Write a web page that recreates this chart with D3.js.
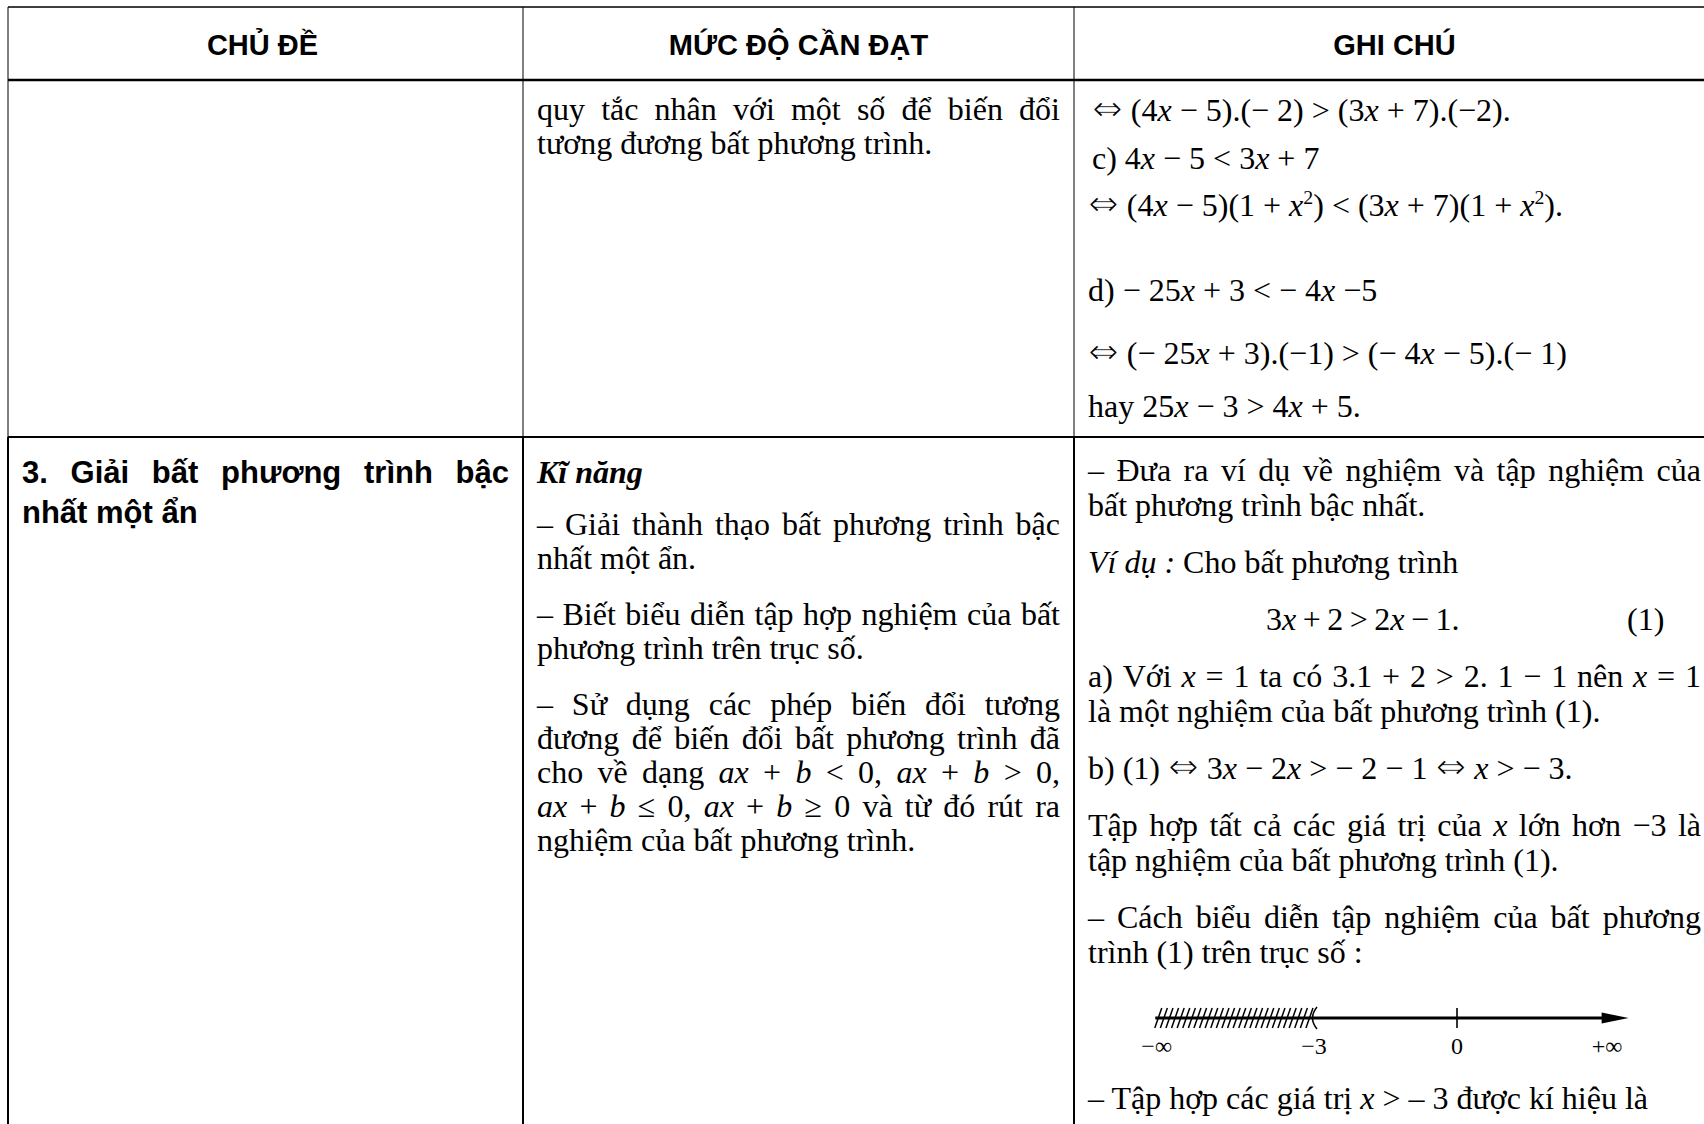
<!DOCTYPE html>
<html>
<head>
<meta charset="utf-8">
<script src="https://cdn.jsdelivr.net/npm/d3@7"></script>
<style>
  html, body { margin: 0; padding: 0; background: #fff; }
  svg { display: block; }
</style>
</head>
<body>
<div id="chart"></div>
<script>
// ---- table content ----
// markup: *...* italic, ^...^ superscript
const headers = ["CHỦ ĐỀ", "MỨC ĐỘ CẦN ĐẠT", "GHI CHÚ"];

const row1Level = [
  ["quy tắc nhân với một số để biến đổi", "tương đương bất phương trình."]
];
const row1Notes = [
  "⇔ (4*x* − 5).(− 2) > (3*x* + 7).(−2).",
  "c) 4*x* − 5 < 3*x* + 7",
  "⇔ (4*x* − 5)(1 + *x*^2^) < (3*x* + 7)(1 + *x*^2^).",
  "d) − 25*x* + 3 < − 4*x* −5",
  "⇔ (− 25*x* + 3).(−1) > (− 4*x* − 5).(− 1)",
  "hay 25*x* − 3 > 4*x* + 5."
];

const row2Topic = [["3. Giải bất phương trình bậc", "nhất một ẩn"]];
const row2LevelTitle = "Kĩ năng";
const row2Level = [
  ["– Giải thành thạo bất phương trình bậc", "nhất một ẩn."],
  ["– Biết biểu diễn tập hợp nghiệm của bất", "phương trình trên trục số."],
  ["– Sử dụng các phép biến đổi tương",
   "đương để biến đổi bất phương trình đã",
   "cho về dạng *ax* + *b* < 0, *ax* + *b* > 0,",
   "*ax* + *b* ≤ 0, *ax* + *b* ≥ 0 và từ đó rút ra",
   "nghiệm của bất phương trình."]
];
const row2Notes = [
  ["– Đưa ra ví dụ về nghiệm và tập nghiệm của", "bất phương trình bậc nhất."],
  ["*Ví dụ :* Cho bất phương trình"],
  { equation: "3*x* + 2 > 2*x* − 1.", tag: "(1)" },
  ["a) Với *x* = 1 ta có 3.1 + 2 > 2. 1 − 1 nên *x* = 1", "là một nghiệm của bất phương trình (1)."],
  ["b) (1) ⇔ 3*x* − 2*x* > − 2 − 1 ⇔ *x* > − 3."],
  ["Tập hợp tất cả các giá trị của *x* lớn hơn −3 là", "tập nghiệm của bất phương trình (1)."],
  ["– Cách biểu diễn tập nghiệm của bất phương", "trình (1) trên trục số :"],
  { numberLine: true },
  ["– Tập hợp các giá trị *x* > – 3 được kí hiệu là"]
];

// number line: labels and where they sit on the axis
const axisLabels = ["−∞", "−3", "0", "+∞"];
const axisValues = [-6.3, -3, 0, 3.15];
const axisTicks = [0];
const solutionBound = -3;
const axisStart = -6.33;
const axisEnd = 3.6;

// ---- layout ----
const W = 1704, H = 1124;
const colX = [8, 523, 1074, 1715];
const rowY = [7, 80, 437, 1140];
const pad = 14;

const SERIF = "'Liberation Serif', 'Times New Roman', 'DejaVu Serif', serif";
const SANS = "'Liberation Sans', Arial, sans-serif";
const serifSt = { family: SERIF, size: 32 };
const headSt = { family: SANS, size: 29, weight: "bold" };
const topicSt = { family: SANS, size: 31, weight: "bold" };

const svg = d3.select("#chart").append("svg")
    .attr("width", W)
    .attr("height", H);

svg.append("rect").attr("width", W).attr("height", H).attr("fill", "#fff");

function parseMarkup(str) {
    const segs = [];
    let italic = false, sup = false, buf = "";
    const flush = () => { if (buf) segs.push({ text: buf, italic, sup }); buf = ""; };
    for (const ch of str) {
        if (ch === "*" || ch === "^") {
            flush();
            if (ch === "*") italic = !italic; else sup = !sup;
        } else if (ch === "⇔") {
            flush();
            segs.push({ text: ch, sym: true });
        } else {
            buf += ch;
        }
    }
    flush();
    return segs;
}

function writeText(g, str, x, y, st) {
    const t = g.append("text")
        .attr("x", x)
        .attr("y", y)
        .attr("font-family", st.family)
        .attr("font-size", st.size)
        .attr("font-weight", st.weight || "normal")
        .attr("font-style", st.style || "normal")
        .attr("word-spacing", st.wordSpacing || 0)
        .attr("fill", "#000")
        .style("white-space", "pre");
    let raised = false;
    parseMarkup(str).forEach(s => {
        const ts = t.append("tspan").text(s.text);
        if (s.sym) {
            // thin the double arrow a little so it reads like the Symbol glyph
            ts.attr("font-family", "'DejaVu Sans'")
                .attr("font-size", st.size * 1.15)
                .attr("stroke", "#fff")
                .attr("stroke-width", 1.1);
        }
        if (s.italic) ts.attr("font-style", "italic");
        if (s.sup && !raised) {
            ts.attr("dy", -st.size * 0.38).attr("font-size", st.size * 0.62);
            raised = true;
        } else if (!s.sup && raised) {
            ts.attr("dy", st.size * 0.38);
            raised = false;
        }
    });
    return t;
}

function writeLine(g, str, x0, x1, y, st, justify) {
    if (!justify) return writeText(g, str, x0, y, st);
    const words = str.split(" ").filter(w => w);
    const nodes = words.map(w => writeText(g, w, x0, y, st));
    const widths = nodes.map(n => n.node().getComputedTextLength());
    const gap = Math.max(2, (x1 - x0 - d3.sum(widths)) / (words.length - 1));
    let x = x0;
    nodes.forEach((n, i) => { n.attr("x", x); x += widths[i] + gap; });
}

function drawParagraphs(g, paras, x0, x1, y0, st, lineGap, paraGap) {
    let y = y0 - paraGap;
    paras.forEach(p => {
        if (p.equation) {
            y += paraGap;
            writeText(g, p.equation, 1266, y, Object.assign({}, st, { wordSpacing: -1.5 }));
            writeText(g, p.tag, x1 - 74, y, st);
        } else if (p.numberLine) {
            drawNumberLine(g, y + 55, y + 91);
            y += 146 - paraGap;
        } else {
            y += paraGap;
            p.forEach((line, li) => {
                if (li > 0) y += lineGap;
                writeLine(g, line, x0, x1, y, st, li < p.length - 1);
            });
        }
    });
}

function drawNumberLine(g, ly, labelY) {
    const x = d3.scaleLinear().domain([-3, 0]).range([1314, 1457]);
    const axis = g.append("g");

    // hatching over the excluded part
    const hatches = d3.range(x(axisStart) + 3, x(solutionBound) - 1, 5.6);
    axis.selectAll(".hatch")
        .data(hatches)
        .enter().append("line")
        .attr("class", "hatch")
        .attr("x1", d => d - 3.5).attr("y1", ly + 10)
        .attr("x2", d => d + 3.5).attr("y2", ly - 10)
        .attr("stroke", "#000").attr("stroke-width", 1.5);

    axis.append("line")
        .attr("x1", x(axisStart)).attr("x2", x(axisEnd) - 20)
        .attr("y1", ly).attr("y2", ly)
        .attr("stroke", "#000").attr("stroke-width", 2.8);

    axis.append("path")
        .attr("d", `M${x(axisEnd)},${ly} L${x(axisEnd) - 27},${ly - 5.5} L${x(axisEnd) - 27},${ly + 5.5} Z`)
        .attr("fill", "#000");

    axis.selectAll(".tick")
        .data(axisTicks)
        .enter().append("line")
        .attr("class", "tick")
        .attr("x1", d => x(d)).attr("x2", d => x(d))
        .attr("y1", ly - 10).attr("y2", ly + 10)
        .attr("stroke", "#000").attr("stroke-width", 1.6);

    // open bracket at the bound
    const bx = x(solutionBound);
    axis.append("path")
        .attr("d", `M${bx + 3},${ly - 11} Q${bx - 6},${ly} ${bx + 3},${ly + 11}`)
        .attr("fill", "none").attr("stroke", "#000").attr("stroke-width", 1.5);

    axis.selectAll(".lbl")
        .data(axisLabels)
        .enter().append("text")
        .attr("class", "lbl")
        .attr("x", (d, i) => x(axisValues[i]))
        .attr("y", labelY)
        .attr("text-anchor", "middle")
        .attr("font-family", SERIF)
        .attr("font-size", 24)
        .text(d => d);
}

// ---- header ----
const head = svg.append("g");
head.selectAll("text")
    .data(headers)
    .enter().append("text")
    .attr("x", (d, i) => (colX[i] + colX[i + 1]) / 2 - (i === 0 ? 3 : 0))
    .attr("y", 55)
    .attr("text-anchor", "middle")
    .attr("font-family", SANS)
    .attr("font-size", headSt.size)
    .attr("font-weight", "bold")
    .text(d => d);

// ---- row 1 ----
const r1 = svg.append("g");
drawParagraphs(r1, row1Level, colX[1] + pad, colX[2] - pad, 120, serifSt, 34, 56);
const r1NoteY = [121, 169, 216, 301, 364, 417];
const r1NoteIndent = [4, 4, 0, 0, 0, 0];
row1Notes.forEach((line, i) => writeText(r1, line, colX[2] + pad + r1NoteIndent[i], r1NoteY[i], serifSt));

// ---- row 2 ----
const r2 = svg.append("g");
drawParagraphs(r2, row2Topic, colX[0] + pad, colX[1] - pad, 483, topicSt, 40, 56);
writeText(r2, row2LevelTitle, colX[1] + pad, 483,
    { family: SERIF, size: 32, weight: "bold", style: "italic" });
drawParagraphs(r2, row2Level, colX[1] + pad, colX[2] - pad, 535, serifSt, 34, 56);
drawParagraphs(r2, row2Notes, colX[2] + pad, colX[3] - pad, 481, serifSt, 35, 57);

// ---- grid lines ----
const hLines = [
    { y: rowY[0], w: 1.3 },
    { y: rowY[1], w: 2.6 },
    { y: rowY[2], w: 2.2 }
];
const vLines = [];
colX.forEach(cx => {
    vLines.push({ x: cx, y1: rowY[0], y2: rowY[2], w: 1 });
    vLines.push({ x: cx, y1: rowY[2], y2: rowY[3], w: 2 });
});

const grid = svg.append("g");
grid.selectAll(".h")
    .data(hLines)
    .enter().append("line")
    .attr("class", "h")
    .attr("x1", colX[0]).attr("x2", W + 20)
    .attr("y1", d => d.y).attr("y2", d => d.y)
    .attr("stroke", "#000").attr("stroke-width", d => d.w);
grid.selectAll(".v")
    .data(vLines)
    .enter().append("line")
    .attr("class", "v")
    .attr("x1", d => d.x).attr("x2", d => d.x)
    .attr("y1", d => d.y1).attr("y2", d => d.y2)
    .attr("stroke", "#000").attr("stroke-width", d => d.w);
</script>
</body>
</html>
